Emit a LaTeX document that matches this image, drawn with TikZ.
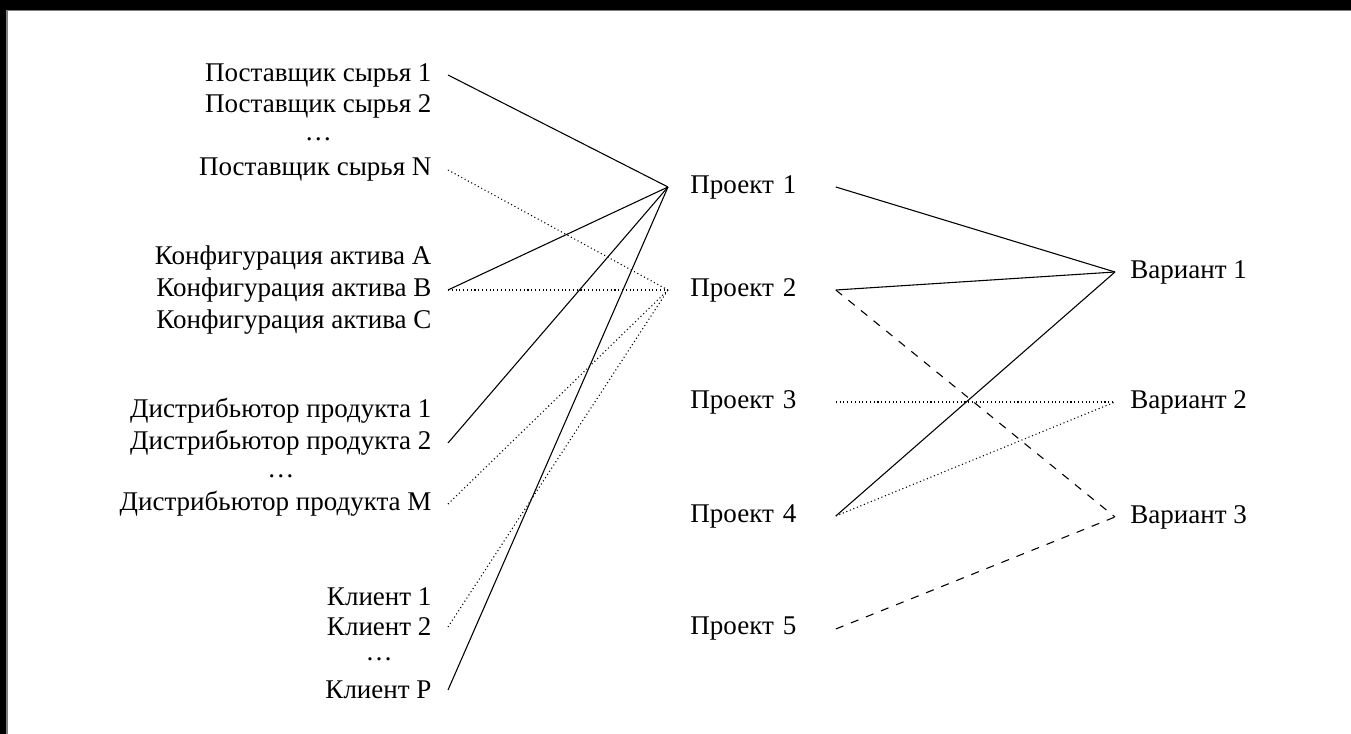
\documentclass[tikz,border=0pt]{standalone}
\usepackage{fontspec}
\setmainfont{Liberation Serif}
\usetikzlibrary{positioning}
\tikzset{
  src/.style={anchor=east, inner xsep=5.9pt, inner ysep=0pt},
  gap/.style={anchor=base, inner sep=0pt},
  prj/.style={anchor=west, inner xsep=8.1pt, inner ysep=0pt, text width=45.5pt, align=left},
  var/.style={anchor=west, inner xsep=5.5pt, inner ysep=0pt},
  weak/.style={densely dotted},
}

\begin{document}
\begin{tikzpicture}[x=0.37pt, y=-0.37pt]
  \useasboundingbox (0,0) rectangle (1351,734);
  % frame of the screenshot
  \fill[black] (0,0) rectangle (1351,10);
  \fill[black] (0,0) rectangle (7,734);
  \draw[gray, line width=0.5pt] (7,734)--(7,10.5)--(1351,10.5);

  % left column
  \node[src] (s1) at (448, 75) {Поставщик сырья 1};
  \node[src] (s2) at (448,106) {Поставщик сырья 2};
  \node[gap] (sd) at (s2.center |- 0,141) {\dots};
  \node[src] (sN) at (448,170) {Поставщик сырья N};

  \node[src] (aa) at (448,258) {Конфигурация актива A};
  \node[src] (ab) at (448,290) {Конфигурация актива B};
  \node[src] (ac) at (448,322) {Конфигурация актива C};

  \node[src] (d1) at (448,411) {Дистрибьютор продукта 1};
  \node[src] (d2) at (448,443) {Дистрибьютор продукта 2};
  \node[gap] (dd) at (d2.center |- 0,478) {\dots};
  \node[src] (dM) at (448,504) {Дистрибьютор продукта M};

  \node[src] (c1) at (448,597) {Клиент 1};
  \node[src] (c2) at (448,627) {Клиент 2};
  \node[gap] (cd) at (c2.center |- 0,661) {\dots};
  \node[src] (cP) at (448,690) {Клиент P};

  % projects
  \node[prj] (p1) at (668,187) {Проект 1};
  \node[prj] (p2) at (668,290) {Проект 2};
  \node[prj] (p3) at (668,402) {Проект 3};
  \node[prj] (p4) at (668,516) {Проект 4};
  \node[prj] (p5) at (668,629) {Проект 5};

  % variants
  \node[var] (v1) at (1115,272) {Вариант 1};
  \node[var] (v2) at (1115,402) {Вариант 2};
  \node[var] (v3) at (1115,517) {Вариант 3};

  % links
  \draw (s1.east)--(p1.west);
  \draw (ab.east)--(p1.west);
  \draw (d2.east)--(p1.west);
  \draw (cP.east)--(p1.west);
  \draw[weak] (sN.east)--(p2.west);
  \draw[weak] (ab.east)--(p2.west);
  \draw[weak] (dM.east)--(p2.west);
  \draw[weak] (c2.east)--(p2.west);

  \draw (p1.east)--(v1.west);
  \draw (p2.east)--(v1.west);
  \draw (p4.east)--(v1.west);
  \draw[weak] (p3.east)--(v2.west);
  \draw[weak] (p4.east)--(v2.west);
  \draw[dashed] (p2.east)--(v3.west);
  \draw[dashed] (p5.east)--(v3.west);
\end{tikzpicture}
\end{document}
